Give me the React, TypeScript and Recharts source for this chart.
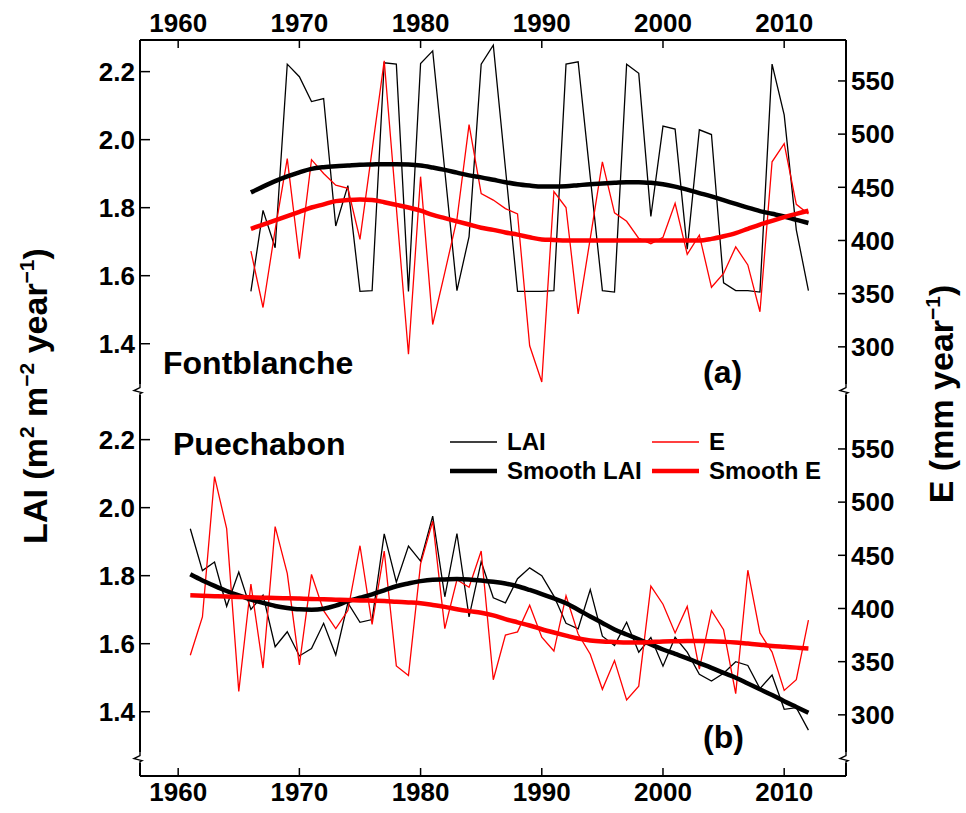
import React from "react";
import { LineChart, Line, XAxis, YAxis, Legend, ReferenceDot } from "recharts";

const FONT = '"Liberation Sans", Arial, Helvetica, sans-serif';

const yearTicks = [1960, 1970, 1980, 1990, 2000, 2010];
const laiTicks = [1.4, 1.6, 1.8, 2.0, 2.2];
const eTicks = [300, 350, 400, 450, 500, 550];
const xDomain = [1956.85, 2015.1];
const laiDomain = [1.211, 2.293];
const eDomain = [242.5, 588.5];
const breakLai = 1.265;

// (a) Fontblanche, 1966-2012
const fbYears = [
  1966, 1967, 1968, 1969, 1970, 1971, 1972, 1973, 1974, 1975,
  1976, 1977, 1978, 1979, 1980, 1981, 1982, 1983, 1984, 1985,
  1986, 1987, 1988, 1989, 1990, 1991, 1992, 1993, 1994, 1995,
  1996, 1997, 1998, 1999, 2000, 2001, 2002, 2003, 2004, 2005,
  2006, 2007, 2008, 2009, 2010, 2011, 2012,
];
const fbLai = [
  1.554, 1.792, 1.682, 2.222, 2.185, 2.112, 2.121, 1.746, 1.865, 1.554,
  1.556, 2.226, 2.222, 1.554, 2.224, 2.261, 1.908, 1.556, 1.715, 2.222,
  2.278, 1.916, 1.554, 1.554, 1.554, 1.556, 2.222, 2.229, 1.89, 1.556,
  1.552, 2.222, 2.195, 1.774, 2.04, 2.031, 1.678, 2.029, 2.015, 1.579,
  1.556, 1.556, 1.552, 2.222, 2.073, 1.735, 1.556,
];
const fbE = [
  390, 337, 410, 477, 383, 476, 463, 452, 449, 401,
  485, 569, 431, 293, 460, 321, 370, 420, 509, 444,
  438, 430, 425, 301, 267, 446, 431, 331, 402, 474,
  426, 418, 402, 397, 403, 435, 387, 405, 356, 369,
  394, 377, 333, 474, 491, 434, 425,
];
const fbLaiSmooth = [
  1.845, 1.862, 1.878, 1.892, 1.904, 1.914, 1.919, 1.922, 1.924, 1.926,
  1.927, 1.928, 1.928, 1.927, 1.924, 1.918, 1.911, 1.903, 1.895, 1.889,
  1.882, 1.875, 1.869, 1.865, 1.862, 1.862, 1.863, 1.866, 1.869, 1.871,
  1.873, 1.875, 1.875, 1.873, 1.869, 1.862, 1.853, 1.843, 1.833, 1.822,
  1.811, 1.8, 1.79, 1.782, 1.774, 1.764, 1.755,
];
const fbESmooth = [
  411, 415, 419, 423, 427, 431, 434, 437, 438, 438.5,
  438, 436, 433.5, 431, 428, 424, 421, 418, 415, 412,
  410, 407.5, 405.5, 403, 401, 400.5, 400, 400, 400, 400,
  400, 400, 400, 400, 400, 400, 400, 400, 401.5, 404,
  407, 411, 415, 418.5, 422, 425, 428,
];

// (b) Puechabon, 1961-2012
const pcYears = [
  1961, 1962, 1963, 1964, 1965, 1966, 1967, 1968, 1969, 1970,
  1971, 1972, 1973, 1974, 1975, 1976, 1977, 1978, 1979, 1980,
  1981, 1982, 1983, 1984, 1985, 1986, 1987, 1988, 1989, 1990,
  1991, 1992, 1993, 1994, 1995, 1996, 1997, 1998, 1999, 2000,
  2001, 2002, 2003, 2004, 2005, 2006, 2007, 2008, 2009, 2010,
  2011, 2012,
];
const pcLai = [
  1.938, 1.815, 1.84, 1.71, 1.811, 1.701, 1.743, 1.591, 1.635, 1.564,
  1.586, 1.66, 1.567, 1.72, 1.663, 1.671, 1.923, 1.781, 1.887, 1.843,
  1.975, 1.738, 1.924, 1.679, 1.841, 1.735, 1.72, 1.791, 1.823, 1.8,
  1.74, 1.66, 1.644, 1.759, 1.622, 1.595, 1.663, 1.575, 1.618, 1.534,
  1.619, 1.575, 1.51, 1.49, 1.513, 1.547, 1.536, 1.468, 1.508, 1.407,
  1.412, 1.346,
];
const pcE = [
  356, 392, 524, 475, 322, 423, 344, 477, 433, 347,
  432, 398, 381, 398, 459, 385, 454, 346, 337, 442,
  482, 381, 427, 420, 454, 333, 375, 378, 403, 373,
  360, 412, 376, 357, 324, 351, 314, 327, 421, 404,
  377, 402, 343, 398, 380, 320, 436, 377, 359, 323,
  333, 389,
];
const pcLaiSmooth = [
  1.804, 1.786, 1.77, 1.755, 1.742, 1.73, 1.72, 1.711, 1.705, 1.701,
  1.7, 1.703, 1.712, 1.725, 1.735, 1.745, 1.757, 1.769, 1.777, 1.784,
  1.788, 1.789, 1.79, 1.789, 1.786, 1.782, 1.777, 1.769, 1.758, 1.746,
  1.733, 1.719, 1.7, 1.68, 1.661, 1.642, 1.627, 1.613, 1.598, 1.583,
  1.57, 1.557, 1.543, 1.529, 1.514, 1.5, 1.483, 1.466, 1.449, 1.431,
  1.414, 1.397,
];
const pcESmooth = [
  412.4, 412, 411.6, 411.2, 410.8, 410.5, 410.2, 409.9, 409.6, 409.3,
  409, 408.6, 408.3, 408, 407.6, 407.3, 407, 406.3, 405.7, 404.9,
  403.3, 401.5, 399.3, 397.5, 396, 393.5, 390, 387, 384, 380.5,
  377.4, 374.5, 371.8, 370, 369, 368.5, 368, 368, 368.5, 369,
  369.2, 369.4, 369.5, 369.2, 368.7, 368, 367, 366, 364.8, 364,
  363.2, 362.4,
];

const legendItems = [
  { name: "LAI", color: "#000000", width: 1.3 },
  { name: "E", color: "#ff0000", width: 1.3 },
  { name: "Smooth LAI", color: "#000000", width: 4.5 },
  { name: "Smooth E", color: "#ff0000", width: 4.5 },
];

const build = (years: number[], lai: number[], e: number[], laiS: number[], eS: number[]) =>
  years.map((year, i) => ({ year, lai: lai[i], e: e[i], laiS: laiS[i], eS: eS[i] }));

const fbData = build(fbYears, fbLai, fbE, fbLaiSmooth, fbESmooth);
const pcData = build(pcYears, pcLai, pcE, pcLaiSmooth, pcESmooth);

const tickStyle = { fontSize: 26, fontWeight: 700, fill: "#000", fontFamily: FONT };
const axisLine = { stroke: "#000", strokeWidth: 2 };
const tickLine = { stroke: "#000", strokeWidth: 1.5 };

const AxisBreak = (props: any) => {
  const { cx, cy } = props;
  if (cx == null || cy == null) return null;
  return (
    <g>
      <rect x={cx - 2} y={cy - 5} width={4} height={10} fill="#fff" />
      <polyline
        points={`${cx},${cy - 5} ${cx},${cy - 2} ${cx - 6},${cy + 1} ${cx + 2},${cy + 3} ${cx},${cy + 4} ${cx},${cy + 5}`}
        fill="none"
        stroke="#000"
        strokeWidth={1.4}
      />
    </g>
  );
};

const LegendBox = () => (
  <div
    style={{
      display: "grid",
      gridTemplateColumns: "202px auto",
      gridAutoRows: "29px",
      fontFamily: FONT,
      fontWeight: 700,
      fontSize: 24,
      color: "#000",
    }}
  >
    {legendItems.map((it) => (
      <div key={it.name} style={{ display: "flex", alignItems: "center", whiteSpace: "nowrap" }}>
        <svg width={47} height={10} style={{ flex: "none" }}>
          <line x1={0} x2={47} y1={5} y2={5} stroke={it.color} strokeWidth={it.width} />
        </svg>
        <span style={{ marginLeft: 10, lineHeight: "29px" }}>{it.name}</span>
      </div>
    ))}
  </div>
);

function Panel({ data, top, legend }: { data: any[]; top: boolean; legend?: boolean }) {
  const height = top ? 420 : 413;
  const margin = top ? { top: 0, right: 0, bottom: 12, left: 0 } : { top: 8, right: 0, bottom: 0, left: 0 };
  return (
    <LineChart width={966} height={height} data={data} margin={margin} style={{ fontFamily: FONT }}>
      <XAxis
        dataKey="year"
        type="number"
        domain={xDomain}
        allowDataOverflow
        ticks={yearTicks}
        orientation={top ? "top" : "bottom"}
        height={top ? 40 : 37}
        tick={tickStyle}
        tickSize={-8}
        tickMargin={top ? 16 : 15}
        axisLine={axisLine}
        tickLine={tickLine}
        interval={0}
      />
      <XAxis
        xAxisId="frame"
        dataKey="year"
        type="number"
        domain={xDomain}
        allowDataOverflow
        orientation={top ? "bottom" : "top"}
        height={0}
        tick={false}
        tickLine={false}
        axisLine={axisLine}
      />
      <YAxis
        yAxisId="lai"
        orientation="left"
        width={140}
        type="number"
        domain={laiDomain}
        allowDataOverflow
        ticks={laiTicks}
        tickFormatter={(v: number) => v.toFixed(1)}
        tick={tickStyle}
        tickSize={-10}
        tickMargin={15}
        axisLine={axisLine}
        tickLine={tickLine}
        interval={0}
      />
      <YAxis
        yAxisId="e"
        orientation="right"
        width={120}
        type="number"
        domain={eDomain}
        allowDataOverflow
        ticks={eTicks}
        tick={tickStyle}
        tickSize={-8}
        tickMargin={13}
        axisLine={axisLine}
        tickLine={tickLine}
        interval={0}
      />
      <Line yAxisId="lai" dataKey="lai" name="LAI" type="linear" stroke="#000" strokeWidth={1.3} dot={false} isAnimationActive={false} />
      <Line yAxisId="e" dataKey="e" name="E" type="linear" stroke="#ff0000" strokeWidth={1.3} dot={false} isAnimationActive={false} />
      <Line yAxisId="lai" dataKey="laiS" name="Smooth LAI" type="monotone" stroke="#000" strokeWidth={4.5} dot={false} isAnimationActive={false} />
      <Line yAxisId="e" dataKey="eS" name="Smooth E" type="monotone" stroke="#ff0000" strokeWidth={4.5} dot={false} isAnimationActive={false} />
      <ReferenceDot yAxisId="lai" x={xDomain[0]} y={breakLai} ifOverflow="visible" shape={AxisBreak} />
      <ReferenceDot yAxisId="lai" x={xDomain[1]} y={breakLai} ifOverflow="visible" shape={AxisBreak} />
      {legend && (
        <Legend
          layout="horizontal"
          verticalAlign="middle"
          align="center"
          content={() => <LegendBox />}
          wrapperStyle={{ left: 450, top: 27, width: 400, height: 60 }}
        />
      )}
    </LineChart>
  );
}

export default function App() {
  return (
    <div style={{ position: "absolute", left: 0, top: 0, width: 966, height: 813, background: "#fff", fontFamily: FONT }}>
      <div style={{ position: "absolute", left: 0, top: 0 }}>
        <Panel data={fbData} top />
      </div>
      <div style={{ position: "absolute", left: 0, top: 400 }}>
        <Panel data={pcData} top={false} legend />
      </div>
      <svg width={966} height={813} style={{ position: "absolute", left: 0, top: 0, pointerEvents: "none" }}>
        <g fontFamily={FONT} fontWeight={700} fill="#000">
          <text x={163} y={374} fontSize={32}>Fontblanche</text>
          <text x={703} y={383} fontSize={32}>(a)</text>
          <text x={173} y={455} fontSize={32}>Puechabon</text>
          <text x={703} y={748} fontSize={32}>(b)</text>
          <text transform="translate(47,396) rotate(-90)" textAnchor="middle" fontSize={34}>
            LAI (m<tspan fontSize={21} dy={-13}>2</tspan>
            <tspan dy={13}> m</tspan>
            <tspan fontSize={21} dy={-13}>−2</tspan>
            <tspan dy={13}> year</tspan>
            <tspan fontSize={21} dy={-13}>−1</tspan>
            <tspan dy={13}>)</tspan>
          </text>
          <text transform="translate(953,394) rotate(-90)" textAnchor="middle" fontSize={34}>
            E (mm year<tspan fontSize={21} dy={-13}>−1</tspan>
            <tspan dy={13}>)</tspan>
          </text>
        </g>
      </svg>
    </div>
  );
}
